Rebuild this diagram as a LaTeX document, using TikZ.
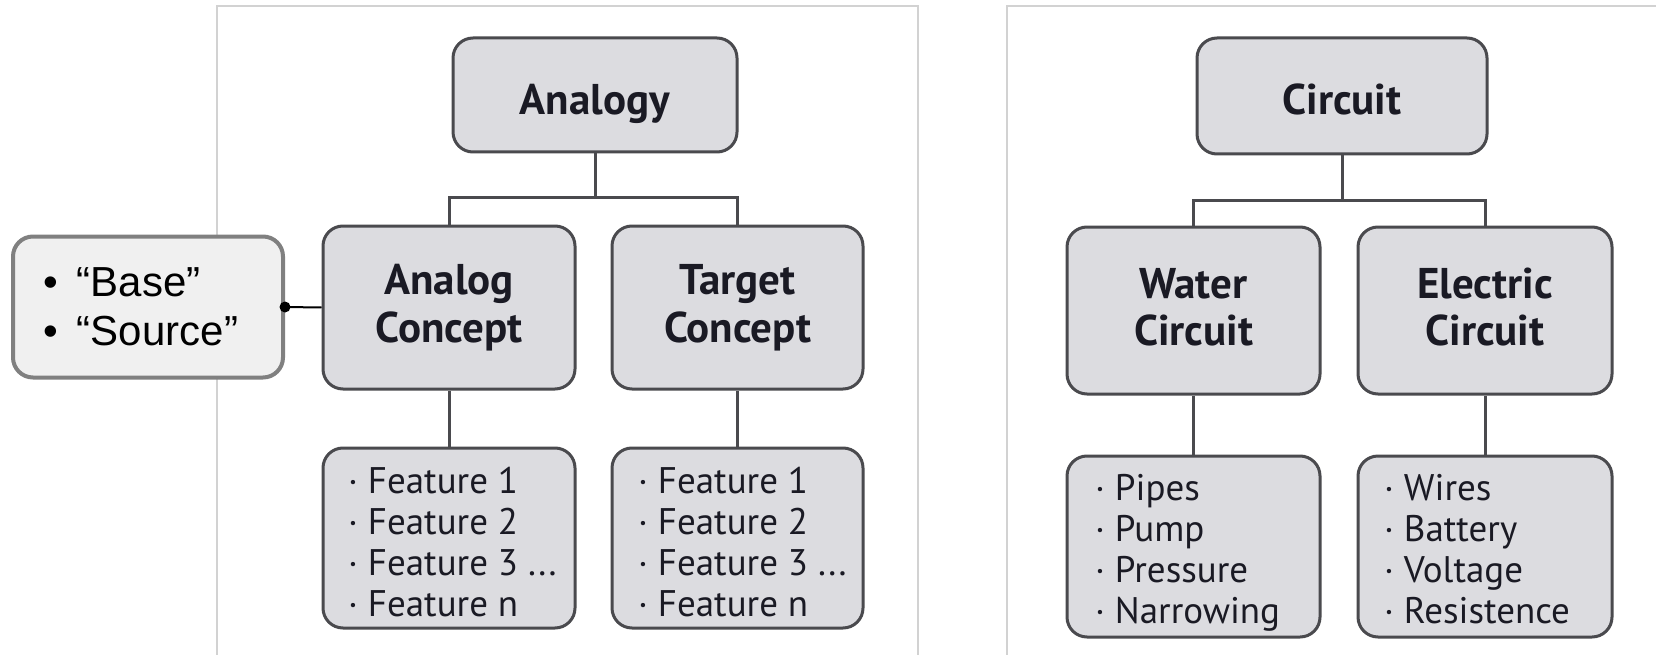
\documentclass[tikz,border=0pt]{standalone}
\usepackage{fontspec}
\setmainfont{PT Sans}
\newfontfamily\calloutfont{Liberation Sans}
\definecolor{boxfill}{HTML}{DCDCE0}
\definecolor{boxdraw}{HTML}{4A4A4E}
\definecolor{txt}{HTML}{1A1A24}
\definecolor{panelline}{HTML}{D2D2D2}
\definecolor{callfill}{HTML}{F0F0F0}
\definecolor{calldraw}{HTML}{808080}
\tikzset{
  panel/.style={draw=panelline, line width=1.5pt},
  gbox/.style={draw=boxdraw, fill=boxfill, line width=3pt, rounded corners=20pt, inner sep=0pt},
  ttl/.style={text=txt, inner sep=0pt, anchor=base, align=center, font=\bfseries\fontsize{43}{47.5}\selectfont},
  lst/.style={text=txt, inner sep=0pt, anchor=base west, align=left, font=\fontsize{37}{41}\selectfont},
  link/.style={draw=boxdraw, line width=3pt},
  callbox/.style={draw=calldraw, fill=callfill, line width=4pt, rounded corners=20pt, align=left, inner xsep=30pt, inner ysep=0pt, text width=210pt, minimum height=141pt, font=\calloutfont\fontsize{42}{49}\selectfont}
}
\begin{document}
\begin{tikzpicture}[x=1pt,y=-1pt]
\useasboundingbox (0,0) rectangle (1656,655);
\clip (0,0) rectangle (1656,655);
\fill[white] (0,0) rectangle (1656,655);
% panels
\draw[panel] (217,6) rectangle (918,670);
\draw[panel] (1007,6) rectangle (1680,670);
% left tree: boxes
\node[gbox, minimum width=284pt, minimum height=114pt] (analogy) at (595,95) {};
\node[gbox, minimum width=252pt, minimum height=163pt] (analog) at (449,307.5) {};
\node[gbox, minimum width=251pt, minimum height=163pt] (target) at (737.5,307.5) {};
\node[gbox, minimum width=252pt, minimum height=180pt] (feat1) at (449,538) {};
\node[gbox, minimum width=251pt, minimum height=180pt] (feat2) at (737.5,538) {};
% left tree: texts (anchored at the baseline of the last line)
\node[ttl] (analogyT) at (595,115) {Analogy};
\node[ttl] (analogT) at (449,342) {Analog\\Concept};
\node[ttl] (targetT) at (737.5,342) {Target\\Concept};
\node[lst] (feat1T) at (348,616.5) {· Feature 1\\· Feature 2\\· Feature 3 ...\\· Feature n};
\node[lst] (feat2T) at (638,616.5) {· Feature 1\\· Feature 2\\· Feature 3 ...\\· Feature n};
% left tree: connectors
\coordinate (jl) at (594,198);
\draw[link] (analogy.south) -- (analogy.south |- jl);
\draw[link] (analog.north) -- (analog.north |- jl) -- (target.north |- jl) -- (target.north);
\draw[link] (analog.south) -- (feat1.north);
\draw[link] (target.south) -- (feat2.north);
% callout
\node[callbox] (callout) at (148,307) {\makebox[34pt][l]{•}“Base”\\\makebox[34pt][l]{•}“Source”};
\draw[line width=2pt] (callout.east) -- (analog.west);
\fill (callout.east) circle (5.5pt);
% right tree: boxes
\node[gbox, minimum width=290pt, minimum height=116pt] (circuit) at (1342,96) {};
\node[gbox, minimum width=253pt, minimum height=167pt] (water) at (1193.5,310.5) {};
\node[gbox, minimum width=254pt, minimum height=167pt] (electric) at (1485,310.5) {};
\node[gbox, minimum width=253pt, minimum height=181pt] (list1) at (1193.5,546.5) {};
\node[gbox, minimum width=254pt, minimum height=181pt] (list2) at (1485,546.5) {};
% right tree: texts
\node[ttl] (circuitT) at (1342,115) {Circuit};
\node[ttl] (waterT) at (1193.5,345.5) {Water\\Circuit};
\node[ttl] (electricT) at (1485,345.5) {Electric\\Circuit};
\node[lst] (list1T) at (1095,623.5) {· Pipes\\· Pump\\· Pressure\\· Narrowing};
\node[lst] (list2T) at (1384,623.5) {· Wires\\· Battery\\· Voltage\\· Resistence};
% right tree: connectors
\coordinate (jr) at (1339,201);
\draw[link] (circuit.south) -- (circuit.south |- jr);
\draw[link] (water.north) -- (water.north |- jr) -- (electric.north |- jr) -- (electric.north);
\draw[link] (water.south) -- (list1.north);
\draw[link] (electric.south) -- (list2.north);
\end{tikzpicture}
\end{document}
